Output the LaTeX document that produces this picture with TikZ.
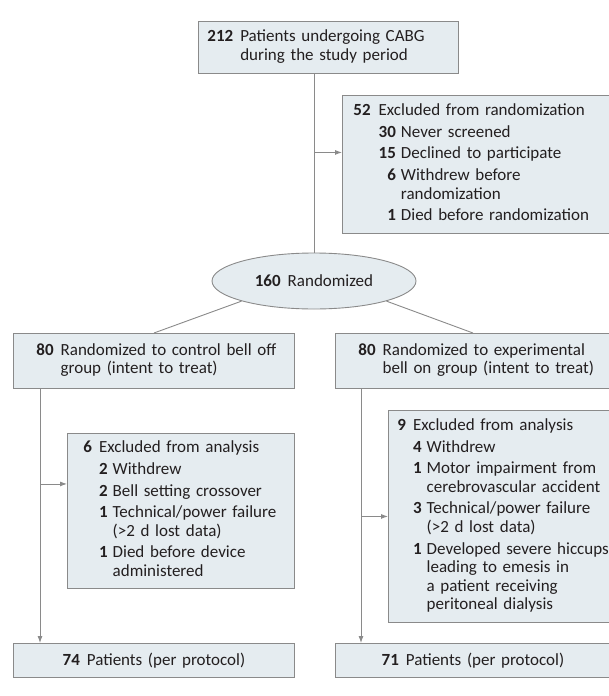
\documentclass[tikz,border=0pt]{standalone}
\usepackage{fontspec}
\setmainfont{Carlito}
\usetikzlibrary{shapes.geometric, arrows.meta}
\definecolor{boxfill}{HTML}{E5ECF0}
\definecolor{boxline}{HTML}{8A8A8A}
\definecolor{ink}{HTML}{231F20}
\newcommand{\nb}[1]{\textbf{#1}}

\begin{document}
\begin{tikzpicture}[
            x=1pt, y=-1pt,
            >={Latex[length=7pt,width=5pt]},
            font=\fontsize{17}{18.6}\selectfont,
            text=ink,
            box/.style={
                draw=boxline, fill=boxfill, line width=0.9pt,
                anchor=north west, inner ysep=0pt, align=left
            },
            oval/.style={draw=boxline, fill=boxfill, line width=0.9pt, ellipse, inner sep=0pt},
            link/.style={draw=boxline, line width=0.9pt},
            flow/.style={link, ->}
        ]

            \useasboundingbox (0,0) rectangle (609,696);

            % Enrollment
            \node[box, text width=242pt, inner xsep=9pt, minimum height=52pt] (enroll) at (198,21) {%
                \begin{tabular}{@{}r@{\hspace{7pt}}l@{}}
                \nb{212} & Patients undergoing CABG\\
                         & during the study period
                \end{tabular}};

            \node[box, text width=245pt, inner xsep=11pt, minimum height=138pt] (excl) at (342,95) {%
                \begin{tabular}{@{}r@{\hspace{8pt}}r@{\hspace{5pt}}l@{}}
                \nb{52} & \multicolumn{2}{@{}l@{}}{Excluded from randomization}\\[3pt]
                        & \nb{30} & Never screened\\[3pt]
                        & \nb{15} & Declined to participate\\[3pt]
                        & \nb{6}  & Withdrew before\\
                        &         & randomization\\[3pt]
                        & \nb{1}  & Died before randomization
                \end{tabular}};

            \node[oval, minimum width=204pt, minimum height=56pt] (rand) at (314,281) {\nb{160}\hspace{7pt}Randomized};

            % Allocation
            \node[box, text width=235pt, inner xsep=23pt, minimum height=55pt] (ctrl) at (13,333) {%
                \begin{tabular}{@{}r@{\hspace{7pt}}l@{}}
                \nb{80} & Randomized to control bell off\\
                        & group (intent to treat)
                \end{tabular}};

            \node[box, text width=229pt, inner xsep=23pt, minimum height=55pt] (expt) at (335,333) {%
                \begin{tabular}{@{}r@{\hspace{7pt}}l@{}}
                \nb{80} & Randomized to experimental\\
                        & bell on group (intent to treat)
                \end{tabular}};

            % Analysis exclusions
            \node[box, text width=195pt, inner xsep=16pt, minimum height=155pt] (ctrlex) at (67,433) {%
                \begin{tabular}{@{}r@{\hspace{7pt}}r@{\hspace{5pt}}l@{}}
                \nb{6} & \multicolumn{2}{@{}l@{}}{Excluded from analysis}\\[3pt]
                       & \nb{2} & Withdrew\\[3pt]
                       & \nb{2} & Bell setting crossover\\[3pt]
                       & \nb{1} & Technical/power failure\\
                       &        & (>2 d lost data)\\[3pt]
                       & \nb{1} & Died before device\\
                       &        & administered
                \end{tabular}};

            \node[box, text width=204pt, inner xsep=9pt, minimum height=212pt] (exptex) at (388,410) {%
                \begin{tabular}{@{}r@{\hspace{7pt}}r@{\hspace{5pt}}l@{}}
                \nb{9} & \multicolumn{2}{@{}l@{}}{Excluded from analysis}\\[3pt]
                       & \nb{4} & Withdrew\\[3pt]
                       & \nb{1} & Motor impairment from\\
                       &        & cerebrovascular accident\\[3pt]
                       & \nb{3} & Technical/power failure\\
                       &        & (>2 d lost data)\\[3pt]
                       & \nb{1} & Developed severe hiccups\\
                       &        & leading to emesis in\\
                       &        & a patient receiving\\
                       &        & peritoneal dialysis
                \end{tabular}};

            % Per protocol
            \node[box, text width=281pt, inner xsep=0pt, minimum height=34pt, align=center] (ctrlpp) at (13,643) {\nb{74}\hspace{7pt}Patients (per protocol)};
            \node[box, text width=275pt, inner xsep=0pt, minimum height=34pt, align=center] (exptpp) at (335,643) {\nb{71}\hspace{7pt}Patients (per protocol)};

            % Connectors
            \coordinate (excl-in) at ([yshift=12pt]excl.west);
            \draw[link] (rand.north |- enroll.south) -- (rand.north);
            \draw[flow] (excl-in -| rand.north) -- (excl-in);

            \draw[link] (rand.south west) -- (ctrl.north);
            \draw[link] (rand.south east) -- (expt.north);

            \coordinate (ctrl-trunk) at ([xshift=27pt]ctrl.south west);
            \coordinate (ctrlex-in) at ([yshift=27pt]ctrlex.west);
            \draw[flow] (ctrl-trunk) -- (ctrl-trunk |- ctrlpp.north);
            \draw[flow] (ctrlex-in -| ctrl-trunk) -- (ctrlex-in);

            \coordinate (expt-trunk) at ([xshift=26pt]expt.south west);
            \draw[flow] (expt-trunk) -- (expt-trunk |- exptpp.north);
            \draw[flow] (exptex.west -| expt-trunk) -- (exptex.west);

        \end{tikzpicture}
\end{document}
